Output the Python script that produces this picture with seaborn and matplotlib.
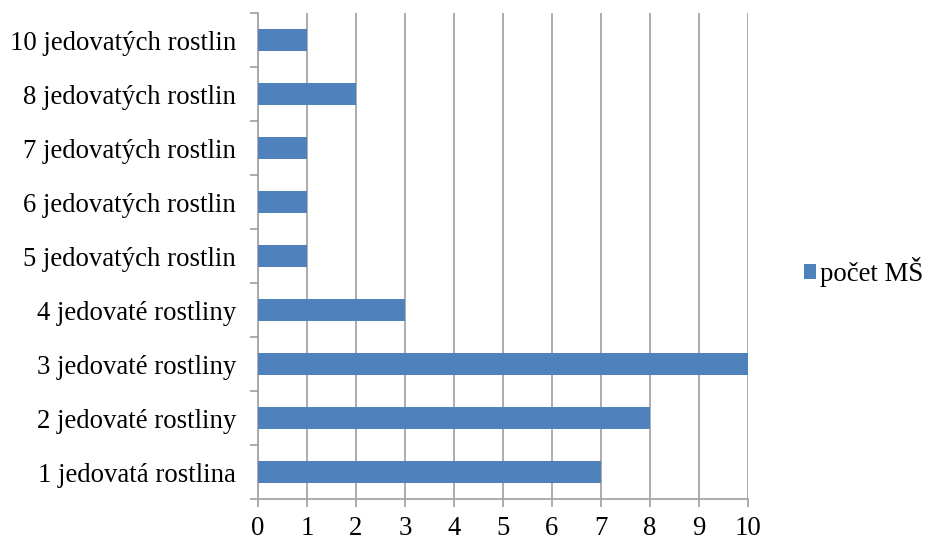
import pandas as pd
import matplotlib.pyplot as plt
import seaborn as sns
from matplotlib.ticker import FixedLocator

categories = ["10 jedovatých rostlin", "8 jedovatých rostlin", "7 jedovatých rostlin",
              "6 jedovatých rostlin", "5 jedovatých rostlin", "4 jedovaté rostliny",
              "3 jedovaté rostliny", "2 jedovaté rostliny", "1 jedovatá rostlina"]
counts = [1, 2, 1, 1, 1, 3, 10, 8, 7]
series_name = "počet MŠ"

df = pd.DataFrame({"kategorie": categories, "pocet": counts})

sns.set_style("white")
plt.rcParams["font.family"] = ["Liberation Serif", "DejaVu Serif"]
plt.rcParams["font.size"] = 19.3
plt.rcParams["text.color"] = "black"
plt.rcParams["xtick.labelcolor"] = "black"
plt.rcParams["ytick.labelcolor"] = "black"

fig = plt.figure(figsize=(9.26, 5.4), dpi=100)
ax = fig.add_axes([258 / 926, 1 - 499 / 540, 490 / 926, 486 / 540])

sns.barplot(data=df, y="kategorie", x="pocet", order=categories, orient="h",
            color="#4F81BD", saturation=1, width=0.4, linewidth=0,
            label=series_name, ax=ax, zorder=3)
if ax.get_legend() is not None:
    ax.get_legend().remove()

ax.set_xlim(0, 10)
ax.set_ylim(len(categories) - 0.5, -0.5)
ax.set_xticks(range(0, 11))
ax.xaxis.grid(True, color="#A6A6A6", linewidth=1.3, zorder=0)
ax.yaxis.grid(False)
ax.set_xlabel("")
ax.set_ylabel("")

# Excel-style category ticks between the labels
ax.yaxis.set_major_locator(FixedLocator([i - 0.5 for i in range(len(categories) + 1)]))
ax.yaxis.set_major_formatter(plt.NullFormatter())
ax.yaxis.set_minor_locator(FixedLocator(range(len(categories))))
ax.set_yticklabels(categories, minor=True)
ax.tick_params(axis="y", which="major", length=6, width=1.3, color="#A6A6A6", left=True)
ax.tick_params(axis="y", which="minor", length=0, pad=16, labelcolor="black")
ax.tick_params(axis="x", length=6, width=1.3, color="#A6A6A6", bottom=True, pad=6,
               labelcolor="black")

for side in ["top", "right"]:
    ax.spines[side].set_visible(False)
for side in ["left", "bottom"]:
    ax.spines[side].set_color("#A6A6A6")
    ax.spines[side].set_linewidth(1.3)

handles, labels = ax.get_legend_handles_labels()
fig.legend(handles[:1], labels[:1], loc="center left",
           bbox_to_anchor=(804 / 926, 1 - 272 / 540), frameon=False,
           borderaxespad=0, borderpad=0,
           handlelength=0.45, handleheight=0.45, handletextpad=0.15)

fig.savefig("out.png", dpi=100)
